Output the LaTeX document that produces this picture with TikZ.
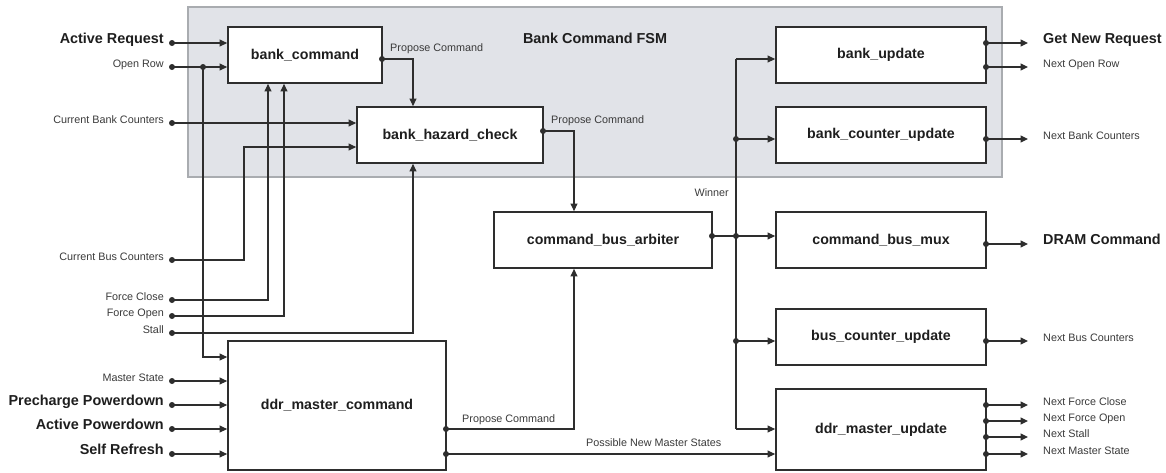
\documentclass[tikz,border=0pt]{standalone}
\usepackage{fontspec}
\setmainfont{Liberation Sans}
\usetikzlibrary{arrows.meta,calc}
\definecolor{fsmfill}{HTML}{E1E3E8}
\definecolor{fsmedge}{HTML}{A9ACB0}
\definecolor{ln}{HTML}{2E2E2E}
\definecolor{txt}{HTML}{1E1E1E}
\definecolor{stxt}{HTML}{3A3A3A}
\begin{document}
\begin{tikzpicture}[x=1pt,y=-1pt,
 blk/.style={draw=ln, line width=1.8pt, fill=white, font=\fontsize{14.2}{16}\selectfont\bfseries, text=txt, inner sep=0pt},
 big/.style={font=\fontsize{14.4}{16}\selectfont\bfseries, text=txt, inner sep=0pt},
 sml/.style={font=\fontsize{10.8}{12}\selectfont, text=stxt, inner sep=0pt},
 wire/.style={draw=ln, line width=1.1pt},
 arr/.style={wire, -{Triangle[length=7.5pt,width=7pt]}},
 jdot/.style={circle, fill=ln, inner sep=0pt, minimum size=6pt}
]
\useasboundingbox (0,0) rectangle (1166,472);
% FSM background
\node[draw=fsmedge, fill=fsmfill, line width=2pt, minimum width=814pt, minimum height=170pt, inner sep=0pt] (fsm) at (595,92) {};
\node[big] (fsmlbl) at (595,38) {Bank Command FSM};

% blocks
\node[blk, minimum width=154pt, minimum height=56pt] (bc) at (305,55) {bank\_command};
\node[blk, minimum width=186pt, minimum height=56pt] (bhc) at (450,135) {bank\_hazard\_check};
\node[blk, minimum width=210pt, minimum height=56pt] (bu) at (881,55) {bank\_update};
\node[blk, minimum width=210pt, minimum height=56pt] (bcu) at (881,135) {bank\_counter\_update};
\node[blk, minimum width=218pt, minimum height=56pt] (cba) at (603,240) {command\_bus\_arbiter};
\node[blk, minimum width=210pt, minimum height=56pt] (cbm) at (881,240) {command\_bus\_mux};
\node[blk, minimum width=210pt, minimum height=56pt] (bsu) at (881,337) {bus\_counter\_update};
\node[blk, minimum width=210pt, minimum height=81pt] (dmu) at (881,429.5) {ddr\_master\_update};
\node[blk, minimum width=218pt, minimum height=129pt] (dmc) at (337,405.5) {ddr\_master\_command};

% left inputs
\node[big, anchor=base east] (tAR) at (164,43) {Active Request};
\node[sml, anchor=base east] (tOR) at (164,67) {Open Row};
\node[sml, anchor=base east] (tCBC) at (164,123) {Current Bank Counters};
\node[sml, anchor=base east] (tCBuC) at (164,260) {Current Bus Counters};
\node[sml, anchor=base east] (tFC) at (164,300) {Force Close};
\node[sml, anchor=base east] (tFO) at (164,316) {Force Open};
\node[sml, anchor=base east] (tST) at (164,333) {Stall};
\node[sml, anchor=base east] (tMS) at (164,381) {Master State};
\node[big, anchor=base east] (tPP) at (164,405) {Precharge Powerdown};
\node[big, anchor=base east] (tAP) at (164,429) {Active Powerdown};
\node[big, anchor=base east] (tSR) at (164,454) {Self Refresh};

\coordinate (iAR) at (172,43);
\coordinate (iOR) at (172,67);
\coordinate (iCBC) at (172,123);
\coordinate (iCBuC) at (172,260);
\coordinate (iFC) at (172,300);
\coordinate (iFO) at (172,316);
\coordinate (iST) at (172,333);
\coordinate (iMS) at (172,381);
\coordinate (iPP) at (172,405);
\coordinate (iAP) at (172,429);
\coordinate (iSR) at (172,454);

\draw[arr] (iAR) -- (iAR -| bc.west);
\draw[arr] (iOR) -- (iOR -| bc.west);
\coordinate (jOR) at (203,67);
\coordinate (kOR) at (203,357);
\draw[arr] (jOR) -- (kOR) -- (kOR -| dmc.west);
\draw[arr] (iCBC) -- (iCBC -| bhc.west);
\coordinate (cCBuC) at (244,260);
\coordinate (dCBuC) at (244,147);
\draw[arr] (iCBuC) -- (cCBuC) -- (dCBuC) -- (dCBuC -| bhc.west);
\coordinate (cFC) at (268,300);
\draw[arr] (iFC) -- (cFC) -- (cFC |- bc.south);
\coordinate (cFO) at (284,316);
\draw[arr] (iFO) -- (cFO) -- (cFO |- bc.south);
\coordinate (cST) at (413,333);
\draw[arr] (iST) -- (cST) -- (cST |- bhc.south);
\draw[arr] (iMS) -- (iMS -| dmc.west);
\draw[arr] (iPP) -- (iPP -| dmc.west);
\draw[arr] (iAP) -- (iAP -| dmc.west);
\draw[arr] (iSR) -- (iSR -| dmc.west);

\foreach \p in {iAR,iOR,jOR,iCBC,iCBuC,iFC,iFO,iST,iMS,iPP,iAP,iSR} \node[jdot] at (\p) {};

% bank_command -> bank_hazard_check
\coordinate (oBC) at (382,59);
\coordinate (tBC) at (413,59);
\draw[arr] (oBC) -- (tBC) -- (tBC |- bhc.north);
\node[jdot] at (oBC) {};
\node[sml, anchor=base west] (pc1) at (390,51) {Propose Command};

% bank_hazard_check -> arbiter
\coordinate (oBHC) at (543,131);
\coordinate (tBHC) at (574,131);
\draw[arr] (oBHC) -- (tBHC) -- (tBHC |- cba.north);
\node[jdot] at (oBHC) {};
\node[sml, anchor=base west] (pc2) at (551,123) {Propose Command};

% ddr_master_command outputs
\coordinate (oDMC1) at (446,429);
\coordinate (tDMC1) at (574,429);
\draw[arr] (oDMC1) -- (tDMC1) -- (tDMC1 |- cba.south);
\node[sml, anchor=base west] (pc3) at (462,422) {Propose Command};
\coordinate (oDMC2) at (446,454);
\draw[arr] (oDMC2) -- (oDMC2 -| dmu.west);
\node[sml, anchor=base west] (pnms) at (586,446) {Possible New Master States};
\node[jdot] at (oDMC1) {};
\node[jdot] at (oDMC2) {};

% winner distribution
\coordinate (oCBA) at (712,236);
\coordinate (wJ) at (736,236);
\coordinate (wTop) at (736,59);
\coordinate (wBCU) at (736,139);
\coordinate (wBSU) at (736,341);
\coordinate (wBot) at (736,429);
\draw[arr] (oCBA) -- (oCBA -| cbm.west);
\draw[wire] (wTop) -- (wBot);
\draw[arr] (wTop) -- (wTop -| bu.west);
\draw[arr] (wBCU) -- (wBCU -| bcu.west);
\draw[arr] (wBSU) -- (wBSU -| bsu.west);
\draw[arr] (wBot) -- (wBot -| dmu.west);
\foreach \p in {oCBA,wJ,wBCU,wBSU} \node[jdot] at (\p) {};
\node[sml, anchor=base east] (win) at (729,196) {Winner};

% right outputs
\foreach \y/\n in {43/a,67/b,139/c,244/d,341/e,405/f,421/g,437/h,454/i}{
  \coordinate (o\n) at (986,\y);
  \coordinate (e\n) at (1028,\y);
  \draw[arr] (o\n) -- (e\n);
  \node[jdot] at (o\n) {};
}
\node[big, anchor=base west] (tGNR) at (1043,43) {Get New Request};
\node[sml, anchor=base west] (tNOR) at (1043,67) {Next Open Row};
\node[sml, anchor=base west] (tNBC) at (1043,139) {Next Bank Counters};
\node[big, anchor=base west] (tDC) at (1043,244) {DRAM Command};
\node[sml, anchor=base west] (tNBuC) at (1043,341) {Next Bus Counters};
\node[sml, anchor=base west] (tNFC) at (1043,405) {Next Force Close};
\node[sml, anchor=base west] (tNFO) at (1043,421) {Next Force Open};
\node[sml, anchor=base west] (tNS) at (1043,437) {Next Stall};
\node[sml, anchor=base west] (tNMS) at (1043,454) {Next Master State};
\end{tikzpicture}
\end{document}
